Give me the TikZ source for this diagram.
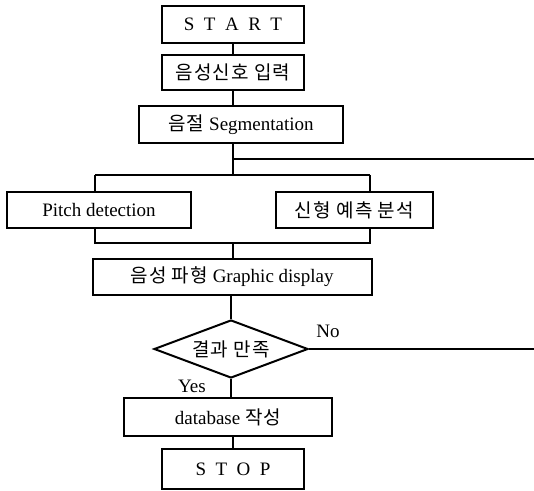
\documentclass[tikz,border=0pt]{standalone}
\usepackage{fontspec}
\setmainfont{Liberation Serif}
\newfontfamily\kr[LetterSpace=6]{Noto Sans CJK KR}
\usetikzlibrary{shapes.geometric}
\tikzset{
  box/.style={draw,line width=1pt,inner sep=0pt,font=\fontsize{9.5}{11}\selectfont},
  decision/.style={draw,diamond,aspect=2.6,line width=1pt,inner sep=0pt,minimum width=77pt,minimum height=29pt,font=\fontsize{9.5}{11}\selectfont},
  tag/.style={inner sep=0pt,font=\fontsize{9.5}{11}\selectfont},
  link/.style={line width=0.9pt}
}
\begin{document}
\begin{tikzpicture}[x=0.5pt,y=-0.5pt]
\useasboundingbox (0,0) rectangle (534,491);
\node[box,minimum width=71pt,minimum height=18.5pt] (start) at (233,24.5) {S\enspace T\enspace A\enspace R\enspace T};
\node[box,minimum width=71pt,minimum height=17.5pt] (input) at (233,72.5) {\kr 음성신호 입력};
\node[box,minimum width=102pt,minimum height=18.5pt] (seg) at (241,124.5) {{\kr 음절} Segmentation};
\node[box,minimum width=92pt,minimum height=18pt] (pitch) at (99,210) {Pitch detection};
\node[box,minimum width=78.5pt,minimum height=18pt] (lpc) at (354.5,210) {\kr 신형 예측 분석};
\node[box,minimum width=139.5pt,minimum height=18pt] (disp) at (232,277) {{\kr 음성 파형} Graphic display};
\node[decision] (dec) at (231,349) {\kr 결과 만족};
\node[tag] (no) at (328,331) {No};
\node[tag] (yes) at (192,386) {Yes};
\node[box,minimum width=104pt,minimum height=19pt] (db) at (228,417) {database {\kr 작성}};
\node[box,minimum width=71pt,minimum height=20pt] (stop) at (233,469) {S\enspace T\enspace O\enspace P};
\coordinate (tee) at (233,159);
\coordinate (fb) at (534,159);
\coordinate (split) at (233,175);
\coordinate (splitL) at (95,175);
\coordinate (splitR) at (370,175);
\coordinate (joinL) at (95,243);
\coordinate (joinR) at (370,243);
\coordinate (join) at (233,243);
\draw[link] (start) -- (input);
\draw[link] (input.south) -- (input.south |- seg.north);
\draw[link] (seg.south -| split) -- (split);
\draw[link] (tee) -- (fb);
\draw[link] (splitL) -- (splitR);
\draw[link] (splitL) -- (splitL |- pitch.north);
\draw[link] (splitR) -- (splitR |- lpc.north);
\draw[link] (splitL |- pitch.south) -- (joinL) -- (joinR) -- (joinR |- lpc.south);
\draw[link] (join) -- (disp.north -| join);
\draw[link] (disp.south -| dec.north) -- (dec.north);
\draw[link] (dec.east) -- (dec.east -| fb);
\draw[link] (dec.south) -- (dec.south |- db.north);
\draw[link] (db.south -| stop.north) -- (stop.north);
\end{tikzpicture}
\end{document}
